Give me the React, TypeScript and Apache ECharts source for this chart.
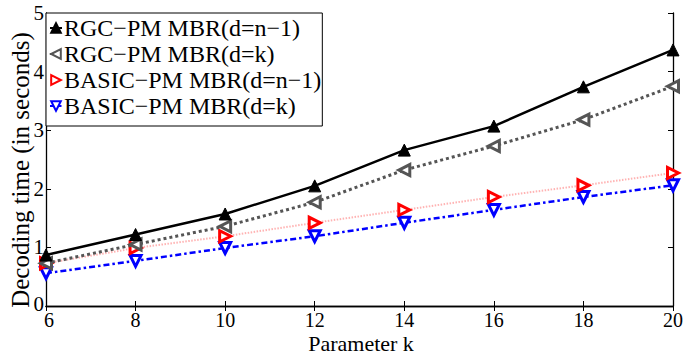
import React, { useEffect, useRef } from "react";
import * as echarts from "echarts";

const kValues = [6, 8, 10, 12, 14, 16, 18, 20];
const rgcN1 = [0.87, 1.22, 1.57, 2.05, 2.66, 3.07, 3.74, 4.37];
const rgcK = [0.73, 1.05, 1.36, 1.77, 2.32, 2.73, 3.18, 3.75];
const basicN1 = [0.73, 0.99, 1.19, 1.42, 1.64, 1.86, 2.06, 2.27];
const basicK = [0.56, 0.77, 0.99, 1.19, 1.42, 1.64, 1.86, 2.06];
const seriesNames = [
  "RGC\u2212PM MBR(d=n\u22121)",
  "RGC\u2212PM MBR(d=k)",
  "BASIC\u2212PM MBR(d=n\u22121)",
  "BASIC\u2212PM MBR(d=k)",
];
const xTitle = "Parameter k";
const yTitle = "Decoding time (in seconds)";

const FONT = "'Liberation Serif', 'Times New Roman', serif";

export default function App() {
  const ref = useRef<HTMLDivElement>(null);
  useEffect(() => {
    if (!ref.current) return;
    const chart = echarts.init(ref.current, undefined, { renderer: "svg" });
    const pair = (ys: number[]) => kValues.map((k, i) => [k, ys[i]]);
    const axisCommon = {
      axisLine: { show: true, lineStyle: { color: "#000", width: 1.3 } },
      axisTick: { show: true, inside: true, length: 5, lineStyle: { color: "#000", width: 1 } },
      splitLine: { show: false },
    };
    chart.setOption({
      animation: false,
      backgroundColor: "#fff",
      textStyle: { fontFamily: FONT },
      grid: { left: 46, right: 9, top: 13, bottom: 48, containLabel: false },
      legend: {
        orient: "vertical",
        left: 46,
        top: 13,
        padding: [3, 1, 8, 3],
        itemWidth: 12,
        itemHeight: 12,
        itemGap: 2,
        backgroundColor: "#fff",
        borderColor: "#000",
        borderWidth: 1,
        borderRadius: 0,
        textStyle: { fontFamily: FONT, fontSize: 24, lineHeight: 24, color: "#000", padding: [0, 0, 0, -3] },
        data: seriesNames,
      },
      graphic: [
        {
          type: "text",
          x: 20,
          y: 170,
          rotation: Math.PI / 2,
          style: {
            text: yTitle,
            fontFamily: FONT,
            fontSize: 25,
            fill: "#000",
            align: "center",
            verticalAlign: "middle",
          },
        },
        {
          type: "text",
          x: 361,
          y: 343,
          style: {
            text: xTitle,
            fontFamily: FONT,
            fontSize: 22,
            lineHeight: 18,
            fill: "#000",
            align: "center",
            verticalAlign: "middle",
          },
        },
      ],
      xAxis: [
        {
          type: "value",
          min: 6,
          max: 20,
          interval: 2,
          axisLabel: {
            fontFamily: FONT,
            fontSize: 20,
            lineHeight: 16,
            color: "#000",
            margin: 6,
            formatter: (v: number) => (v === 6 ? "{s|6}" : String(v)),
            rich: { s: { fontFamily: FONT, fontSize: 20, lineHeight: 16, color: "#000", padding: [0, 0, 0, 6] } },
          },
          ...axisCommon,
        },
        {
          type: "value",
          position: "top",
          min: 6,
          max: 20,
          interval: 2,
          axisLabel: { show: false },
          ...axisCommon,
        },
      ],
      yAxis: [
        {
          type: "value",
          min: 0,
          max: 5,
          interval: 1,
          axisLabel: {
            fontFamily: FONT,
            fontSize: 21,
            lineHeight: 14,
            color: "#000",
            margin: 2,
            formatter: (v: number) => (v === 0 ? "{z|0}" : String(v)),
            rich: { z: { fontFamily: FONT, fontSize: 21, lineHeight: 14, color: "#000", padding: [0, 0, 4, 0] } },
          },
          ...axisCommon,
        },
        {
          type: "value",
          position: "right",
          min: 0,
          max: 5,
          interval: 1,
          axisLabel: { show: false },
          ...axisCommon,
        },
      ],
      series: [
        {
          name: seriesNames[0],
          type: "line",
          data: pair(rgcN1),
          symbol: "triangle",
          symbolSize: 12,
          lineStyle: { color: "#000", width: 2.5, type: "solid" },
          itemStyle: { color: "#000", borderColor: "#000", borderWidth: 1 },
          z: 4,
        },
        {
          name: seriesNames[1],
          type: "line",
          data: pair(rgcK),
          symbol: "triangle",
          symbolRotate: 90,
          symbolSize: 11,
          lineStyle: { color: "#555", width: 3, type: [3, 3] },
          itemStyle: { color: "#fff", borderColor: "#555", borderWidth: 3 },
          z: 3,
        },
        {
          name: seriesNames[2],
          type: "line",
          data: pair(basicN1),
          symbol: "triangle",
          symbolRotate: -90,
          symbolSize: 11,
          lineStyle: { color: "#ffb3b3", width: 2, type: [1.5, 1.5] },
          itemStyle: { color: "#fff", borderColor: "#ff0000", borderWidth: 3 },
          z: 2,
        },
        {
          name: seriesNames[3],
          type: "line",
          data: pair(basicK),
          symbol: "triangle",
          symbolRotate: 180,
          symbolSize: 11,
          lineStyle: { color: "#0000ff", width: 2.5, type: [6, 3, 2.5, 3] },
          itemStyle: { color: "#fff", borderColor: "#0000ff", borderWidth: 3 },
          z: 1,
        },
      ],
    });
    return () => chart.dispose();
  }, []);
  return <div ref={ref} style={{ width: 686, height: 354, position: "absolute", left: 0, top: 0 }} />;
}
